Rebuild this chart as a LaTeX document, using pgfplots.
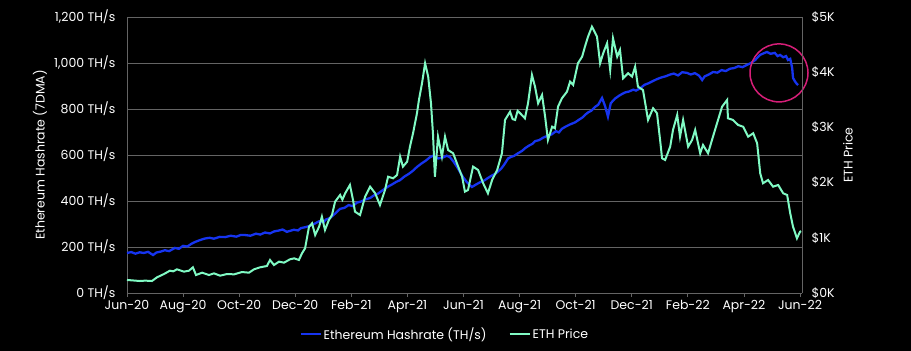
\documentclass[border=0pt]{standalone}
\usepackage{pgfplots}
\pgfplotsset{compat=1.18}
\usepackage{fontspec}
\setmainfont{Poppins}
\definecolor{hashblue}{RGB}{22,52,240}
\definecolor{ethgreen}{RGB}{128,250,196}
\definecolor{gridgray}{RGB}{100,100,100}
\definecolor{circ}{RGB}{214,30,120}
\newcommand{\lblfont}{\fontsize{12.5}{14}\selectfont}
\begin{document}
\begin{tikzpicture}
\fill[black] (-127pt,-58pt) rectangle (784pt,293pt);
\begin{axis}[
  scale only axis, width=675pt, height=276pt,
  xmin=0, xmax=24.07, ymin=0, ymax=1200,
  clip=false,
  axis x line*=bottom, axis y line*=left,
  axis line style={gridgray, line width=0.8pt, -},
  xtick={0,2,...,24},
  xticklabels={Jun-20,Aug-20,Oct-20,Dec-20,Feb-21,Apr-21,Jun-21,Aug-21,Oct-21,Dec-21,Feb-22,Apr-22,Jun-22},
  ytick={0,200,...,1200},
  yticklabels={0 TH/s,200 TH/s,400 TH/s,600 TH/s,800 TH/s,{1,000 TH/s},{1,200 TH/s}},
  ymajorgrids, grid style={gridgray, line width=0.8pt},
  tick label style={white, font=\lblfont},
  tick align=outside, major tick length=4pt,
  x tick style={gridgray, line width=0.8pt},
  y tick style={draw=none},
  yticklabel style={xshift=-4pt},
  ylabel={Ethereum Hashrate (7DMA)},
  ylabel style={white, font=\lblfont, at={(axis description cs:-0.129,0.5)}, anchor=center},
]
\addplot[hashblue, line width=2.3pt] coordinates {
(0.00,174) (0.15,178) (0.30,171) (0.45,177) (0.60,174) (0.75,179) (0.93,165) (1.05,176) (1.20,180) (1.35,186) (1.50,182) (1.71,196) (1.85,192) (2.00,205) (2.15,202) (2.30,214) (2.43,222) (2.60,230) (2.78,237) (2.95,240) (3.10,236) (3.30,244) (3.50,243) (3.70,249) (3.90,245) (4.05,252) (4.21,252) (4.40,249) (4.60,258) (4.75,254) (4.92,263) (5.10,259) (5.25,268) (5.39,271) (5.55,276) (5.70,266) (5.81,270) (5.95,275) (6.10,272) (6.20,282) (6.35,286) (6.53,292) (6.70,302) (6.85,312) (7.00,307) (7.10,320) (7.24,326) (7.40,343) (7.50,355) (7.60,366) (7.75,370) (7.90,382) (8.05,378) (8.20,393) (8.35,398) (8.50,407) (8.67,413) (8.80,424) (8.95,432) (9.13,448) (9.30,462) (9.45,472) (9.60,483) (9.74,491) (9.90,507) (10.05,518) (10.20,532) (10.34,548) (10.50,563) (10.65,575) (10.81,591) (10.95,598) (11.10,585) (11.27,589) (11.40,597) (11.52,590) (11.65,570) (11.77,548) (11.88,525) (11.98,504) (12.10,485) (12.20,472) (12.30,461) (12.45,472) (12.60,482) (12.75,490) (12.87,500) (13.00,510) (13.10,516) (13.23,528) (13.35,542) (13.45,558) (13.59,585) (13.70,592) (13.80,596) (13.95,608) (14.09,618) (14.20,630) (14.35,642) (14.45,648) (14.55,660) (14.70,665) (14.85,676) (15.01,684) (15.15,690) (15.30,704) (15.40,698) (15.51,714) (15.65,724) (15.80,733) (15.98,742) (16.10,752) (16.25,764) (16.35,776) (16.44,785) (16.55,792) (16.70,810) (16.80,818) (16.94,848) (17.05,812) (17.15,767) (17.25,825) (17.40,845) (17.55,858) (17.65,865) (17.76,872) (17.90,876) (18.05,884) (18.15,880) (18.30,890) (18.45,905) (18.60,912) (18.76,922) (18.90,930) (19.05,937) (19.20,942) (19.37,950) (19.50,954) (19.65,946) (19.80,960) (19.97,957) (20.10,950) (20.25,956) (20.40,945) (20.51,926) (20.60,942) (20.75,950) (20.90,961) (21.05,958) (21.20,969) (21.35,965) (21.50,975) (21.65,978) (21.80,986) (21.95,982) (22.11,992) (22.25,1000) (22.40,1013) (22.57,1035) (22.70,1042) (22.82,1048) (22.95,1040) (23.10,1044) (23.20,1030) (23.29,1035) (23.40,1025) (23.50,1030) (23.57,1013) (23.65,1018) (23.72,978) (23.75,935) (23.82,920) (23.88,910) (23.93,904)
};
\draw[circ, line width=1.5pt] (axis cs:23.25,957) circle [radius=29pt];
\end{axis}
\begin{axis}[
  scale only axis, width=675pt, height=276pt,
  xmin=0, xmax=24.07, ymin=0, ymax=5000,
  axis x line=none, axis y line*=right,
  axis line style={gridgray, line width=0.8pt, -},
  ytick={0,1000,...,5000},
  yticklabels={\$0K,\$1K,\$2K,\$3K,\$4K,\$5K},
  tick label style={white, font=\lblfont},
  tick align=outside, major tick length=4pt,
  y tick style={draw=none},
  yticklabel style={xshift=2pt},
  ylabel={ETH Price},
  ylabel style={white, font=\lblfont, at={(axis description cs:1.068,0.5)}, anchor=center},
  legend style={at={(0.471,-0.149)}, anchor=center, draw=none, fill=none, text=white, font=\lblfont, legend columns=2, /tikz/every even column/.append style={column sep=20pt}},
  legend image code/.code={\draw[#1] (0pt,0pt) -- (20pt,0pt);},
]
\addlegendimage{hashblue, line width=2pt}
\addlegendentry{Ethereum Hashrate (TH/s)}
\addplot[ethgreen, line width=2pt] coordinates {
(0.00,236) (0.20,228) (0.46,217) (0.65,224) (0.89,217) (1.07,284) (1.32,344) (1.53,404) (1.65,392) (1.78,429) (2.03,387) (2.21,404) (2.35,465) (2.46,326) (2.68,368) (2.92,326) (3.10,356) (3.32,314) (3.57,344) (3.82,338) (4.10,380) (4.35,368) (4.53,429) (4.74,465) (4.99,489) (5.10,598) (5.24,507) (5.42,568) (5.60,550) (5.81,610) (5.96,628) (6.13,598) (6.24,719) (6.35,809) (6.49,1201) (6.60,1263) (6.71,1051) (6.85,1201) (6.95,1383) (7.06,1142) (7.20,1323) (7.31,1413) (7.42,1654) (7.60,1776) (7.68,1690) (7.78,1806) (7.95,1957) (8.06,1685) (8.13,1473) (8.31,1413) (8.49,1745) (8.67,1926) (8.85,1806) (9.02,1594) (9.20,1866) (9.31,2107) (9.49,2078) (9.63,2138) (9.74,2470) (9.84,2289) (9.99,2379) (10.09,2651) (10.20,2894) (10.34,3256) (10.41,3497) (10.52,3800) (10.63,4162) (10.74,3920) (10.84,3437) (10.91,2894) (10.98,2107) (11.09,2832) (11.23,2470) (11.34,2832) (11.45,2591) (11.63,2531) (11.81,2289) (11.95,2107) (12.05,1836) (12.16,1866) (12.34,2289) (12.52,2229) (12.70,1988) (12.87,1806) (13.02,2048) (13.20,2229) (13.37,2531) (13.48,3135) (13.66,3285) (13.75,3150) (13.84,3135) (13.93,3300) (14.02,3256) (14.19,3165) (14.30,3437) (14.44,3950) (14.55,3738) (14.66,3437) (14.80,3588) (14.91,3195) (15.01,2772) (15.16,3013) (15.26,2984) (15.37,3376) (15.51,3528) (15.69,3648) (15.80,3829) (15.91,3769) (16.08,4162) (16.23,4282) (16.33,4463) (16.44,4644) (16.58,4825) (16.76,4644) (16.87,4162) (16.98,4343) (17.12,4524) (17.23,4041) (17.33,4615) (17.48,4282) (17.58,4403) (17.69,3890) (17.87,3981) (18.01,3920) (18.12,4101) (18.22,3738) (18.40,3678) (18.58,3135) (18.76,3347) (18.90,3256) (19.01,2772) (19.08,2441) (19.19,2410) (19.37,2651) (19.47,2954) (19.62,3225) (19.72,2832) (19.83,3135) (20.01,2651) (20.15,2772) (20.26,2954) (20.44,2531) (20.54,2682) (20.72,2531) (20.86,2772) (21.04,3075) (21.22,3376) (21.40,3497) (21.43,3165) (21.61,3135) (21.79,3044) (21.97,3013) (22.15,2832) (22.33,2894) (22.47,2712) (22.58,2169) (22.68,1988) (22.86,2048) (23.04,1926) (23.22,1957) (23.40,1806) (23.54,1776) (23.65,1444) (23.75,1201) (23.89,991) (24.00,1111) (24.04,1120)
};
\addlegendentry{ETH Price}
\end{axis}
\end{tikzpicture}
\end{document}
